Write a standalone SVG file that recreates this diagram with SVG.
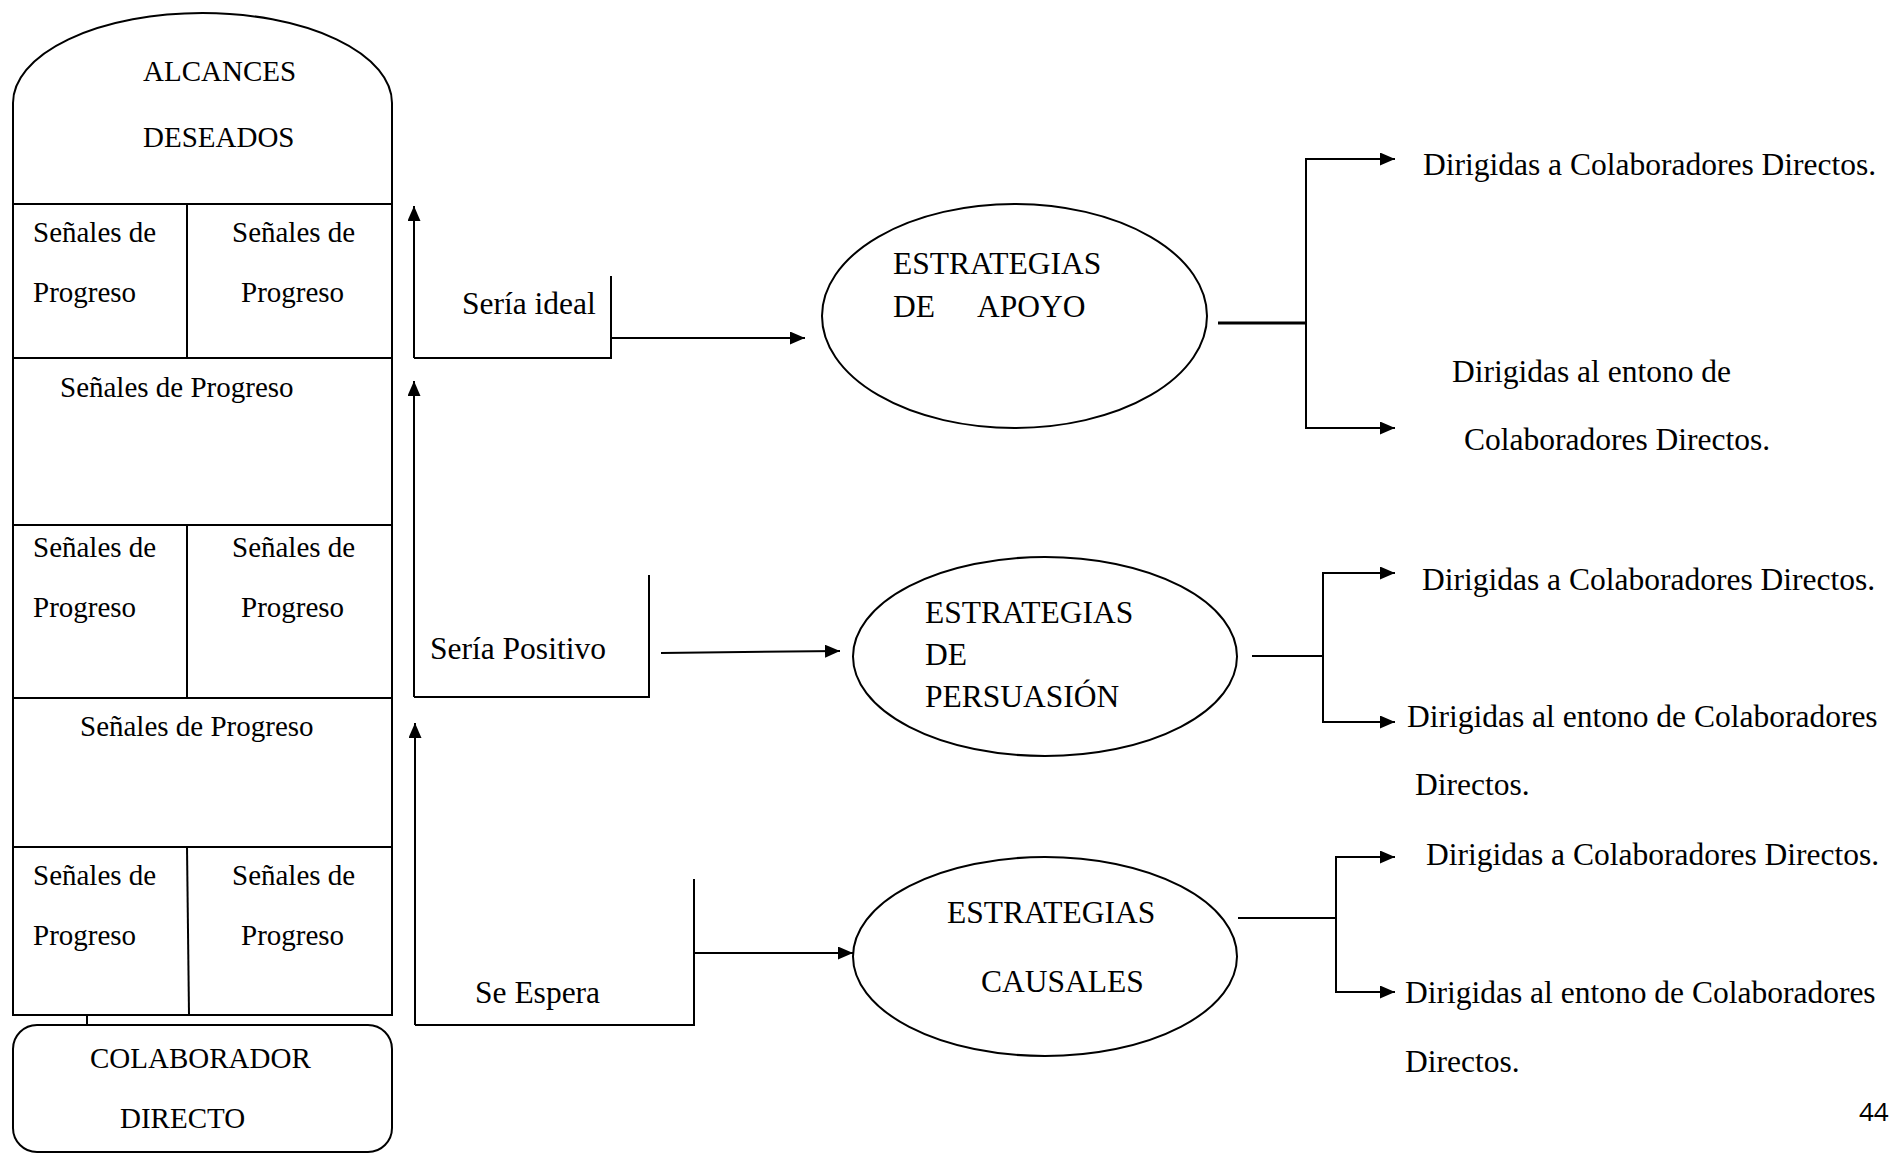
<svg xmlns="http://www.w3.org/2000/svg" width="1889" height="1154" viewBox="0 0 1889 1154">
<style>
.ln{fill:none;stroke:#000;stroke-width:2}
.thk{fill:none;stroke:#000;stroke-width:3}
.t{font-family:"Liberation Serif","Times New Roman",serif;font-size:29px;fill:#000}
.m{font-family:"Liberation Serif","Times New Roman",serif;font-size:31.5px;fill:#000}
.pg{font-family:"Open Sans","Liberation Sans",sans-serif;font-size:26px;fill:#000}
</style>
<defs>
<marker id="ah" markerUnits="userSpaceOnUse" markerWidth="15" markerHeight="13" refX="15" refY="6.5" orient="auto">
<path d="M0,0 L15,6.5 L0,13 Z" fill="#000"/>
</marker>
</defs>
<rect width="1889" height="1154" fill="#fff"/>

<g id="alcances">
<path class="ln" d="M13,1015 V103 A189.5,90 0 0 1 392,103 V1015 Z"/>
<text class="t" x="143" y="81">ALCANCES</text>
<text class="t" x="143" y="147">DESEADOS</text>
</g>
<g id="fila1">
<line class="ln" x1="13" y1="204" x2="392" y2="204"/>
<line class="ln" x1="187" y1="204" x2="187" y2="358"/>
<text class="t" x="33" y="242">Señales de</text>
<text class="t" x="33" y="302">Progreso</text>
<text class="t" x="232" y="242">Señales de</text>
<text class="t" x="241" y="302">Progreso</text>
</g>
<g id="fila2">
<line class="ln" x1="13" y1="358" x2="392" y2="358"/>
<text class="t" x="60" y="397">Señales de Progreso</text>
</g>
<g id="fila3">
<line class="ln" x1="13" y1="525" x2="392" y2="525"/>
<line class="ln" x1="187" y1="525" x2="187" y2="698"/>
<text class="t" x="33" y="557">Señales de</text>
<text class="t" x="33" y="617">Progreso</text>
<text class="t" x="232" y="557">Señales de</text>
<text class="t" x="241" y="617">Progreso</text>
</g>
<g id="fila4">
<line class="ln" x1="13" y1="698" x2="392" y2="698"/>
<text class="t" x="80" y="736">Señales de Progreso</text>
</g>
<g id="fila5">
<line class="ln" x1="13" y1="847" x2="392" y2="847"/>
<line class="ln" x1="187" y1="847" x2="189" y2="1015"/>
<text class="t" x="33" y="885">Señales de</text>
<text class="t" x="33" y="945">Progreso</text>
<text class="t" x="232" y="885">Señales de</text>
<text class="t" x="241" y="945">Progreso</text>
</g>
<g id="colaborador">
<rect class="ln" x="13" y="1025" width="379" height="127" rx="24" ry="24"/>
<text class="t" x="90" y="1068">COLABORADOR</text>
<text class="t" x="120" y="1128">DIRECTO</text>
</g>

<g id="apoyo">
<ellipse class="ln" cx="1014.5" cy="316" rx="192.5" ry="112"/>
<text class="m" x="893" y="274">ESTRATEGIAS</text>
<text class="m" x="893" y="317">DE</text>
<text class="m" x="977" y="317">APOYO</text>
</g>
<g id="persuasion">
<ellipse class="ln" cx="1045" cy="656.5" rx="192" ry="99.5"/>
<text class="m" x="925" y="623">ESTRATEGIAS</text>
<text class="m" x="925" y="665">DE</text>
<text class="m" x="925" y="707">PERSUASIÓN</text>
</g>
<g id="causales">
<ellipse class="ln" cx="1045" cy="956.5" rx="192" ry="99.5"/>
<text class="m" x="947" y="923">ESTRATEGIAS</text>
<text class="m" x="981" y="992">CAUSALES</text>
</g>

<g id="etiquetas">
<text class="m" x="462" y="314">Sería ideal</text>
<text class="m" x="430" y="659">Sería Positivo</text>
<text class="m" x="475" y="1003">Se Espera</text>
</g>

<g id="resultados">
<text class="m" x="1423" y="175">Dirigidas a Colaboradores Directos.</text>
<text class="m" x="1452" y="382">Dirigidas al entono de</text>
<text class="m" x="1464" y="450">Colaboradores Directos.</text>
<text class="m" x="1422" y="590">Dirigidas a Colaboradores Directos.</text>
<text class="m" x="1407" y="727">Dirigidas al entono de Colaboradores</text>
<text class="m" x="1415" y="795">Directos.</text>
<text class="m" x="1426" y="865">Dirigidas a Colaboradores Directos.</text>
<text class="m" x="1405" y="1003">Dirigidas al entono de Colaboradores</text>
<text class="m" x="1405" y="1072">Directos.</text>
</g>

<g id="connectors">
<line class="ln" x1="87" y1="1015" x2="87" y2="1025"/>
<path class="ln" d="M414,358 V206" marker-end="url(#ah)"/>
<path class="ln" d="M414,358 H611 V276"/>
<path class="ln" d="M611,338 H805" marker-end="url(#ah)"/>
<path class="ln" d="M414,697 V381" marker-end="url(#ah)"/>
<path class="ln" d="M414,697 H649 V575"/>
<path class="ln" d="M661,653 L840,651" marker-end="url(#ah)"/>
<path class="ln" d="M415,1025 V723" marker-end="url(#ah)"/>
<path class="ln" d="M415,1025 H694 V879"/>
<path class="ln" d="M694,953 H853" marker-end="url(#ah)"/>

<path class="thk" d="M1218,323 H1306"/>
<path class="ln" d="M1306,323 V159 H1395" marker-end="url(#ah)"/>
<path class="ln" d="M1306,323 V428 H1395" marker-end="url(#ah)"/>

<path class="ln" d="M1252,656 H1323"/>
<path class="ln" d="M1323,656 V573 H1395" marker-end="url(#ah)"/>
<path class="ln" d="M1323,656 V722 H1395" marker-end="url(#ah)"/>

<path class="ln" d="M1238,918 H1336"/>
<path class="ln" d="M1336,918 V857 H1395" marker-end="url(#ah)"/>
<path class="ln" d="M1336,918 V992 H1395" marker-end="url(#ah)"/>
</g>

<text class="pg" x="1859" y="1121">44</text>
</svg>
